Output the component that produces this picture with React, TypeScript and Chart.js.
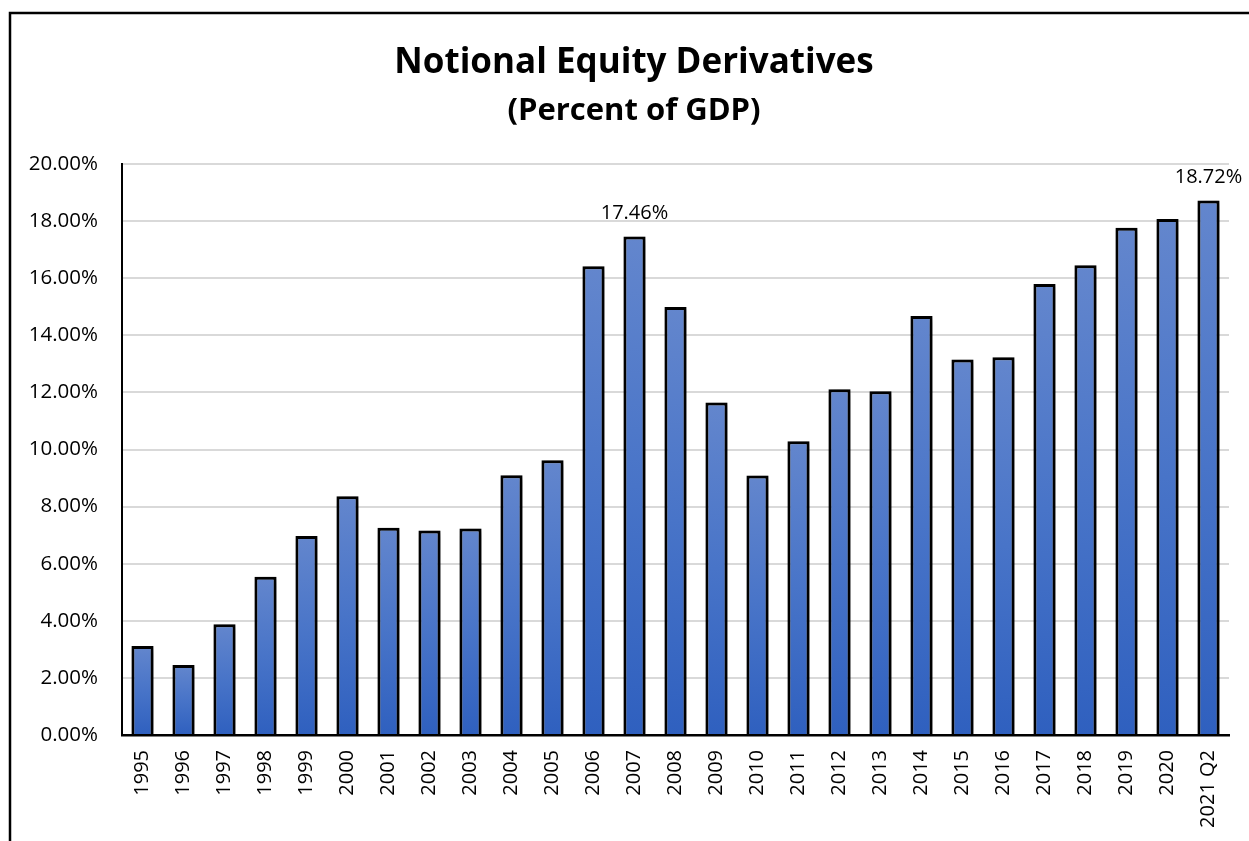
import React, { useEffect, useRef } from "react";
import { Chart, registerables } from "chart.js";

Chart.register(...registerables);

// Notional equity derivatives as a share of GDP, by year
const categories = [
  "1995", "1996", "1997", "1998", "1999", "2000", "2001", "2002", "2003",
  "2004", "2005", "2006", "2007", "2008", "2009", "2010", "2011", "2012",
  "2013", "2014", "2015", "2016", "2017", "2018", "2019", "2020", "2021 Q2",
];

const equityPctOfGdp = [
  3.12, 2.45, 3.88, 5.54, 6.97, 8.36, 7.26, 7.16, 7.23,
  9.10, 9.62, 16.42, 17.46, 14.99, 11.65, 9.09, 10.29, 12.11,
  12.04, 14.68, 13.15, 13.23, 15.80, 16.45, 17.77, 18.07, 18.72,
];

// Bars that carry a value label above them
const labeledCategories = ["2007", "2021 Q2"];

const titleLines = ["Notional Equity Derivatives", "(Percent of GDP)"];

const yAxisMin = 0;
const yAxisMax = 20;
const yAxisStep = 2;

const FONT = "'Open Sans', 'Noto Sans', sans-serif";

const fmtPct = (v: number) => `${v.toFixed(2)}%`;

// Outer frame and two-line heading
const framePlugin = {
  id: "frameAndTitle",
  beforeDraw(chart: Chart) {
    const { ctx } = chart;
    ctx.save();
    ctx.fillStyle = "#ffffff";
    ctx.fillRect(0, 0, chart.width, chart.height);
    ctx.strokeStyle = "#000000";
    ctx.lineWidth = 2.5;
    ctx.strokeRect(10, 13, chart.width + 200, chart.height + 200);
    ctx.fillStyle = "#000000";
    ctx.textAlign = "center";
    ctx.textBaseline = "alphabetic";
    ctx.font = `bold 35px ${FONT}`;
    ctx.fillText(titleLines[0], 634, 73);
    ctx.font = `bold 31px ${FONT}`;
    ctx.fillText(titleLines[1], 634, 120);
    ctx.restore();
  },
};

// Soft drop shadow behind the bars
const barShadowPlugin = {
  id: "barShadow",
  beforeDatasetsDraw(chart: Chart) {
    const { ctx } = chart;
    ctx.save();
    ctx.shadowColor = "rgba(0, 0, 0, 0.45)";
    ctx.shadowBlur = 7;
    ctx.shadowOffsetX = 3;
    ctx.shadowOffsetY = 2;
  },
  afterDatasetsDraw(chart: Chart) {
    chart.ctx.restore();
  },
};

// Value labels above selected bars
const valueLabelPlugin = {
  id: "valueLabels",
  afterDatasetsDraw(chart: Chart) {
    const { ctx } = chart;
    const meta = chart.getDatasetMeta(0);
    const values = chart.data.datasets[0].data as number[];
    const labels = chart.data.labels as string[];
    ctx.save();
    ctx.shadowColor = "transparent";
    ctx.fillStyle = "#000000";
    ctx.font = `20px ${FONT}`;
    ctx.textAlign = "center";
    ctx.textBaseline = "alphabetic";
    labels.forEach((lab, i) => {
      if (!labeledCategories.includes(lab)) return;
      const bar = meta.data[i] as any;
      ctx.fillText(fmtPct(values[i]), bar.x, bar.y - 18);
    });
    ctx.restore();
  },
};

function barGradient(context: any) {
  const chart = context.chart;
  const yScale = chart.scales?.y;
  const value = context.raw as number;
  if (!yScale || value === undefined) return "#4a73c8";
  const top = yScale.getPixelForValue(value);
  const bottom = yScale.getPixelForValue(0);
  if (!isFinite(top) || !isFinite(bottom) || top === bottom) return "#4a73c8";
  const g = chart.ctx.createLinearGradient(0, top, 0, bottom);
  g.addColorStop(0, "#6386cd");
  g.addColorStop(0.5, "#4874c8");
  g.addColorStop(1, "#2f60bf");
  return g;
}

export default function App() {
  const canvasRef = useRef<HTMLCanvasElement | null>(null);

  useEffect(() => {
    const canvas = canvasRef.current;
    if (!canvas) return;
    const chart = new Chart(canvas, {
      type: "bar",
      data: {
        labels: categories,
        datasets: [
          {
            data: equityPctOfGdp,
            backgroundColor: barGradient,
            borderColor: "#000000",
            borderWidth: 3,
            borderSkipped: "bottom",
            barPercentage: 0.54,
            categoryPercentage: 1,
          },
        ],
      },
      options: {
        responsive: false,
        animation: false,
        devicePixelRatio: 1,
        layout: { padding: { left: 0, right: 20, top: 164, bottom: 0 } },
        plugins: {
          legend: { display: false },
          title: { display: false },
          tooltip: { enabled: false },
        },
        scales: {
          x: {
            grid: { display: false, drawTicks: false },
            border: { display: true, color: "#000000", width: 2.5 },
            ticks: {
              autoSkip: false,
              minRotation: 90,
              maxRotation: 90,
              padding: 15,
              color: "#000000",
              font: { family: FONT, size: 20 },
            },
            afterFit: (scale: any) => {
              scale.height = 106;
            },
          },
          y: {
            min: yAxisMin,
            max: yAxisMax,
            grid: {
              drawTicks: false,
              lineWidth: 2,
              color: (ctx: any) =>
                ctx.tick && ctx.tick.value === yAxisMin ? "rgba(0,0,0,0)" : "#d9d9d9",
            },
            border: { display: true, color: "#000000", width: 2 },
            ticks: {
              stepSize: yAxisStep,
              padding: 24,
              color: "#000000",
              font: { family: FONT, size: 20.5 },
              callback: (v: any) => fmtPct(Number(v)),
            },
            afterFit: (scale: any) => {
              scale.width = 122;
            },
          },
        },
      },
      plugins: [framePlugin, barShadowPlugin, valueLabelPlugin],
    });
    return () => chart.destroy();
  }, []);

  return (
    <div
      style={{
        position: "absolute",
        left: 0,
        top: 0,
        width: 1249,
        height: 841,
        background: "#ffffff",
        overflow: "hidden",
      }}
    >
      <canvas ref={canvasRef} width={1249} height={841} style={{ display: "block" }} />
    </div>
  );
}
